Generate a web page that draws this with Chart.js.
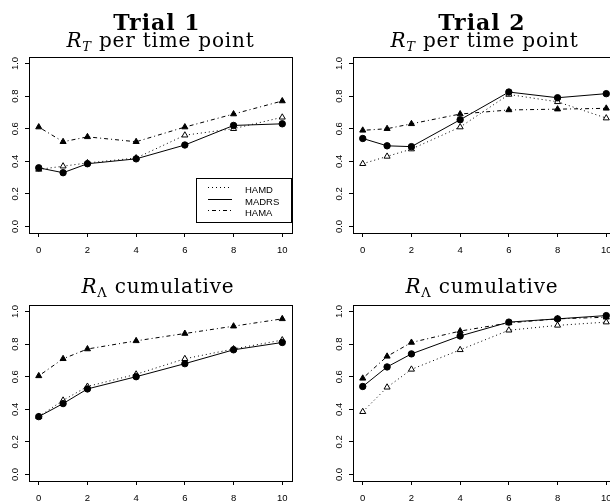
<!DOCTYPE html>
<html>
<head>
<meta charset="utf-8">
<script src="https://cdn.jsdelivr.net/npm/chart.js@4.4.0/dist/chart.umd.min.js"></script>
<style>
  body { margin: 0; width: 610px; height: 501px; overflow: hidden; background: #fff; position: relative; }
  canvas { position: absolute; }
  #overlay { position: absolute; left: 0; top: 0; }
</style>
</head>
<body>
<canvas id="c1" width="323" height="265" style="left:0px;top:0px"></canvas>
<canvas id="c2" width="323" height="265" style="left:324px;top:0px"></canvas>
<canvas id="c3" width="323" height="265" style="left:0px;top:248px"></canvas>
<canvas id="c4" width="323" height="265" style="left:324px;top:248px"></canvas>

<svg id="overlay" width="610" height="501" font-family="DejaVu Serif">
  <!-- titles -->
  <text x="157" y="30" text-anchor="middle" font-size="22" font-weight="bold" letter-spacing="1">Trial 1</text>
  <text x="160.5" y="47" text-anchor="middle" font-size="20" letter-spacing="0.8"><tspan font-style="italic">R</tspan><tspan font-style="italic" font-size="13" dy="4">T</tspan><tspan dy="-4"> per time point</tspan></text>
  <text x="482" y="30" text-anchor="middle" font-size="22" font-weight="bold" letter-spacing="1">Trial 2</text>
  <text x="484.5" y="47" text-anchor="middle" font-size="20" letter-spacing="0.8"><tspan font-style="italic">R</tspan><tspan font-style="italic" font-size="13" dy="4">T</tspan><tspan dy="-4"> per time point</tspan></text>
  <text x="158" y="293" text-anchor="middle" font-size="20" letter-spacing="0.8"><tspan font-style="italic">R</tspan><tspan font-size="13" dy="4">Λ</tspan><tspan dy="-4"> cumulative</tspan></text>
  <text x="482" y="293" text-anchor="middle" font-size="20" letter-spacing="0.8"><tspan font-style="italic">R</tspan><tspan font-size="13" dy="4">Λ</tspan><tspan dy="-4"> cumulative</tspan></text>
  <!-- legend -->
  <rect x="196.5" y="178.5" width="95" height="44" fill="#fff" stroke="#000" stroke-width="1"/>
  <line x1="208" y1="187.5" x2="232" y2="187.5" stroke="#000" stroke-dasharray="1,3"/>
  <line x1="208" y1="199.5" x2="232" y2="199.5" stroke="#000"/>
  <line x1="208" y1="210.5" x2="232" y2="210.5" stroke="#000" stroke-dasharray="1,3,4,3"/>
  <g font-family="Liberation Sans" font-size="9.5">
    <text x="245" y="193">HAMD</text>
    <text x="245" y="205">MADRS</text>
    <text x="245" y="216">HAMA</text>
  </g>
</svg>

<script>
  // time points (x) and tick values
  const timePoints = [0, 1, 2, 4, 6, 8, 10];
  const xTicks = [0, 2, 4, 6, 8, 10];
  const yTicks = [0, 0.2, 0.4, 0.6, 0.8, 1.0];

  // Trial 1, R_T per time point
  const t1RtHamd  = [0.35, 0.37, 0.39, 0.42, 0.56, 0.60, 0.67];
  const t1RtMadrs = [0.36, 0.33, 0.385, 0.415, 0.50, 0.62, 0.63];
  const t1RtHama  = [0.61, 0.52, 0.55, 0.52, 0.61, 0.69, 0.77];

  // Trial 2, R_T per time point
  const t2RtHamd  = [0.385, 0.43, 0.475, 0.61, 0.81, 0.765, 0.665];
  const t2RtMadrs = [0.54, 0.495, 0.49, 0.655, 0.825, 0.79, 0.815];
  const t2RtHama  = [0.59, 0.60, 0.63, 0.69, 0.715, 0.72, 0.725];

  // Trial 1, R_Lambda cumulative
  const t1CumHamd  = [0.355, 0.455, 0.54, 0.615, 0.71, 0.77, 0.825];
  const t1CumMadrs = [0.355, 0.435, 0.525, 0.60, 0.68, 0.765, 0.81];
  const t1CumHama  = [0.605, 0.71, 0.77, 0.82, 0.865, 0.91, 0.955];

  // Trial 2, R_Lambda cumulative
  const t2CumHamd  = [0.385, 0.535, 0.645, 0.765, 0.885, 0.915, 0.935];
  const t2CumMadrs = [0.54, 0.66, 0.74, 0.85, 0.935, 0.955, 0.975];
  const t2CumHama  = [0.59, 0.725, 0.81, 0.88, 0.93, 0.955, 0.965];

  // -------------------------------------------------------------------
  // helpers
  // -------------------------------------------------------------------
  function toPoints(values) {
    return timePoints.map((t, i) => ({ x: t, y: values[i] }));
  }

  function series(label, values, style) {
    const base = {
      label,
      data: toPoints(values),
      borderColor: "#000",
      borderWidth: 1,
      pointBorderColor: "#000",
      pointBorderWidth: 1,
      pointHoverRadius: 0,
      fill: false,
      tension: 0
    };
    return Object.assign(base, style);
  }

  function hamd(values) {
    return series("HAMD", values, {
      borderDash: [1, 3],
      pointStyle: "triangle",
      pointRadius: 3.5,
      pointBackgroundColor: "#fff",
      order: 3
    });
  }
  function madrs(values) {
    return series("MADRS", values, {
      pointStyle: "circle",
      pointRadius: 3.2,
      pointBackgroundColor: "#000",
      order: 2
    });
  }
  function hama(values) {
    return series("HAMA", values, {
      borderDash: [1, 3, 4, 3],
      pointStyle: "triangle",
      pointRadius: 3.5,
      pointBackgroundColor: "#000",
      order: 1
    });
  }

  // box around the plot region, like R's box()
  const boxPlugin = {
    id: "box",
    afterDraw(chart) {
      const a = chart.chartArea;
      const ctx = chart.ctx;
      ctx.save();
      ctx.strokeStyle = "#000";
      ctx.lineWidth = 1;
      ctx.strokeRect(Math.round(a.left) + 0.5, Math.round(a.top) + 0.5,
        Math.round(a.right - a.left), Math.round(a.bottom - a.top));
      ctx.restore();
    }
  };

  const tickFont = { family: "Liberation Sans", size: 9.5 };

  function makePanel(id, datasets) {
    const ctx = document.getElementById(id).getContext("2d");
    return new Chart(ctx, {
      type: "line",
      data: { datasets },
      plugins: [boxPlugin],
      options: {
        responsive: false,
        animation: false,
        devicePixelRatio: 1,
        layout: { padding: { left: 0, top: 57, right: 31, bottom: 12 } },
        plugins: { legend: { display: false }, tooltip: { enabled: false } },
        scales: {
          x: {
            type: "linear",
            min: -0.4,
            max: 10.4,
            afterBuildTicks: s => { s.ticks = xTicks.map(v => ({ value: v })); },
            afterFit: s => { s.height = 20; },
            grid: { display: true, drawOnChartArea: false, drawTicks: true, tickLength: 4, color: "#000", lineWidth: 1 },
            border: { display: true, color: "#000", width: 1 },
            ticks: { font: tickFont, color: "#000", padding: 8, maxRotation: 0, callback: v => String(v) }
          },
          y: {
            type: "linear",
            min: -0.04,
            max: 1.04,
            afterBuildTicks: s => { s.ticks = yTicks.map(v => ({ value: v })); },
            afterFit: s => { s.width = 29; },
            grid: { display: true, drawOnChartArea: false, drawTicks: true, tickLength: 4, color: "#000", lineWidth: 1 },
            border: { display: true, color: "#000", width: 1 },
            ticks: { font: tickFont, color: "#000", padding: 3, minRotation: 90, maxRotation: 90, crossAlign: "center", callback: v => v.toFixed(1) }
          }
        }
      }
    });
  }

  makePanel("c1", [hamd(t1RtHamd), madrs(t1RtMadrs), hama(t1RtHama)]);
  makePanel("c2", [hamd(t2RtHamd), madrs(t2RtMadrs), hama(t2RtHama)]);
  makePanel("c3", [hamd(t1CumHamd), madrs(t1CumMadrs), hama(t1CumHama)]);
  makePanel("c4", [hamd(t2CumHamd), madrs(t2CumMadrs), hama(t2CumHama)]);
</script>
</body>
</html>
